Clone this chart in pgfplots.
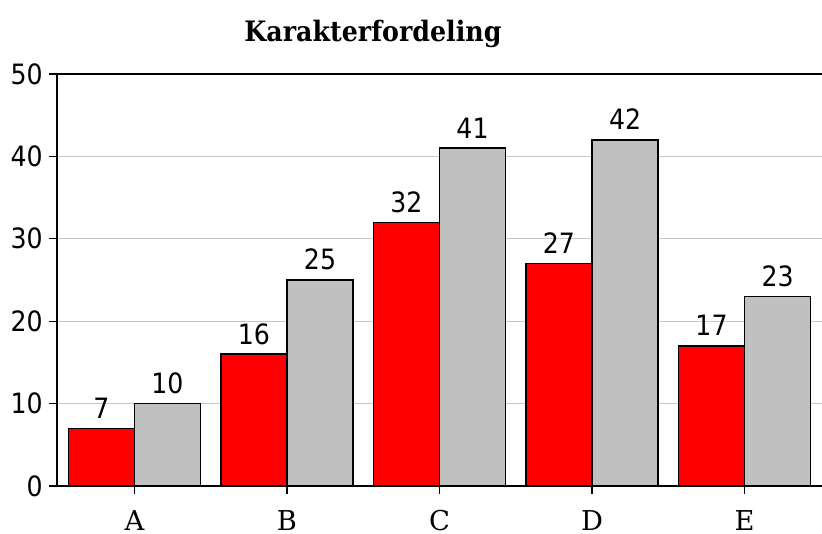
\documentclass[border=0pt]{standalone}
\usepackage{pgfplots}
\pgfplotsset{compat=1.18}
\usepackage{fontspec}
\setmainfont{DejaVu Serif}
\newfontfamily\numfont{DejaVu Sans Condensed}
\newfontfamily\titlefont{DejaVu Serif Condensed}
\definecolor{barred}{HTML}{FF0000}
\definecolor{bargray}{HTML}{C0C0C0}
\begin{document}
\begin{tikzpicture}
\path[use as bounding box] (-42.75pt,-36pt) rectangle (573.75pt,364.5pt);
\begin{axis}[
  at={(0,0)}, anchor=south west, scale only axis,
  width=573.75pt, height=309pt,
  xmin=-0.508, xmax=4.508, ymin=0, ymax=50,
  /pgf/number format/assume math mode=true,
  axis x line*=bottom, axis y line*=left,
  axis line style={line width=1.5pt, black},
  xtick={0,1,2,3,4}, xticklabels={A,B,C,D,E},
  ytick={0,10,20,30,40,50},
  tick align=outside, major tick length=6pt,
  tick style={line width=1pt, black},
  ymajorgrids, grid style={line width=0.9pt, black!22},
  yticklabel style={font=\numfont\fontsize{21}{21}\selectfont, anchor=east, inner sep=0pt, xshift=-4.5pt},
  xticklabel style={font=\fontsize{20.5}{20.5}\selectfont, anchor=base, inner sep=0pt, yshift=-27.5pt},
  every node near coord/.append style={font=\numfont\fontsize{21}{21}\selectfont, inner sep=0pt, anchor=base, yshift=7.5pt, black},
]
\addplot[ybar, bar width=0.433, bar shift=0, fill=barred, draw=black, line width=1pt, nodes near coords]
  coordinates {(-0.2165,7) (0.7835,16) (1.7835,32) (2.7835,27) (3.7835,17)};
\addplot[ybar, bar width=0.433, bar shift=0, fill=bargray, draw=black, line width=1pt, nodes near coords]
  coordinates {(0.2165,10) (1.2165,25) (2.2165,41) (3.2165,42) (4.2165,23)};
\draw[line width=1.5pt, black] (rel axis cs:0,1) -- (rel axis cs:1,1);
\end{axis}
\node[anchor=base, font=\titlefont\bfseries\fontsize{21.1}{21.1}\selectfont] at (237pt,333pt) {Karakterfordeling};
\end{tikzpicture}
\end{document}
